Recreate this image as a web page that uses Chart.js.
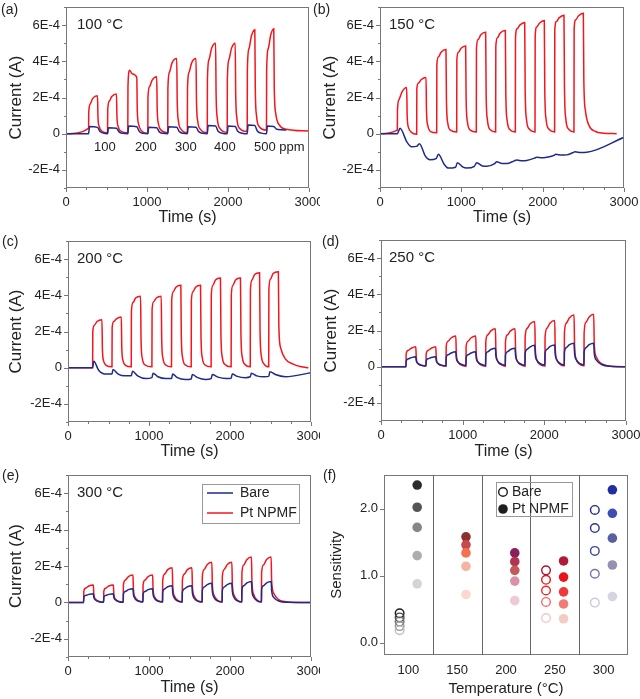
<!DOCTYPE html>
<html>
<head>
<meta charset="utf-8">
<script src="https://cdn.jsdelivr.net/npm/chart.js@4.4.1/dist/chart.umd.min.js"></script>
<style>
  body { margin: 0; background: #fff; width: 640px; height: 699px; position: relative; overflow: hidden; }
  canvas { position: absolute; }
</style>
</head>
<body>
<canvas id="ca" width="320" height="230" style="left:0;top:0"></canvas>
<canvas id="cb" width="330" height="230" style="left:310px;top:0"></canvas>
<canvas id="cc" width="320" height="236" style="left:0;top:230px"></canvas>
<canvas id="cd" width="330" height="236" style="left:310px;top:230px"></canvas>
<canvas id="ce" width="320" height="239" style="left:0;top:460px"></canvas>
<canvas id="cf" width="330" height="239" style="left:310px;top:460px"></canvas>
<script>
// current values in units of 1E-4 A, pairs are [time (s), current]
var timeTicks = [0, 1000, 2000, 3000];
var currentTicks = [-2, 0, 2, 4, 6];
var ppmLabels = ['100', '200', '300', '400', '500 ppm'];

var bare100 = [[0,0],[279,0],[290,0.4],[389,0.35],[420,0.12],[470,0.02],[513,0],
  [524,0.33],[623,0.3],[655,0.1],[705,0.02],[763,0],
  [774,0.42],[874,0.38],[905,0.12],[955,0.02],[1010,0],
  [1021,0.35],[1120,0.33],[1152,0.1],[1200,0.02],[1256,0],
  [1267,0.38],[1367,0.36],[1398,0.12],[1450,0.02],[1498,0],
  [1509,0.38],[1605,0.36],[1637,0.12],[1690,0.02],[1744,0],
  [1755,0.45],[1847,0.42],[1878,0.14],[1930,0.03],[1990,0],
  [2001,0.42],[2089,0.4],[2120,0.13],[2175,0.03],[2237,0],
  [2248,0.48],[2331,0.45],[2362,0.15],[2415,0.03],[2475,0],
  [2486,0.42],[2565,0.4],[2600,0.25],[2660,0.22],[2720,0.2]];
var pt100 = [[0,0],[279,0.3],
  [281,1.2],[300,1.65],[330,1.95],[389,2.1],[395,0.9],[410,0.4],[440,0.15],[513,0.05],
  [515,1.3],[535,1.8],[565,2.05],[623,2.2],[629,0.95],[644,0.4],[675,0.15],[763,0.05],
  [765,2.6],[784,3.5],[820,3.3],[874,3.1],[880,1.3],[895,0.55],[925,0.2],[1010,0.02],
  [1012,2.0],[1032,2.6],[1062,2.95],[1120,3.15],[1126,1.35],[1141,0.55],[1172,0.2],[1256,0.05],
  [1258,2.5],[1278,3.4],[1308,3.9],[1367,4.15],[1373,1.8],[1388,0.7],[1420,0.25],[1498,0.05],
  [1500,2.5],[1520,3.4],[1550,3.9],[1605,4.15],[1611,1.8],[1626,0.7],[1658,0.25],[1744,0.05],
  [1746,3.0],[1766,4.1],[1796,4.7],[1847,5.0],[1853,2.2],[1868,0.85],[1900,0.3],[1990,0.08],
  [1992,3.0],[2012,4.1],[2042,4.7],[2089,5.0],[2095,2.2],[2110,0.85],[2142,0.3],[2237,0.12],
  [2239,3.5],[2259,4.7],[2289,5.4],[2331,5.75],[2337,2.5],[2352,1.0],[2385,0.4],[2475,0.2],
  [2477,3.5],[2497,4.7],[2527,5.45],[2565,5.8],[2571,2.6],[2590,1.1],[2630,0.5],[2720,0.25],[3000,0.15]];

var bare150 = [[0,0],[213,0],[246,0.3],[330,-0.45],[389,-0.72],[451,-0.7],[484,-0.55],[560,-1.25],
  [615,-1.44],[690,-1.38],[717,-1.14],[790,-1.7],[840,-1.9],[930,-1.85],[951,-1.6],[1020,-1.85],
  [1066,-1.9],[1160,-1.8],[1189,-1.6],[1260,-1.78],[1312,-1.8],[1410,-1.65],[1435,-1.55],[1500,-1.65],
  [1558,-1.65],[1650,-1.5],[1681,-1.45],[1750,-1.5],[1804,-1.48],[1900,-1.35],[1927,-1.3],[1990,-1.33],
  [2049,-1.3],[2140,-1.2],[2160,-1.14],[2230,-1.18],[2295,-1.17],[2370,-1.05],[2397,-1.0],[2470,-1.04],
  [2541,-1.03],[3000,-0.2]];
var pt150 = [[0,0],[213,0.2],
  [215,1.3],[235,1.9],[270,2.3],[328,2.55],[334,1.0],[350,0.35],[385,0.08],[451,-0.03],
  [453,2.5],[473,2.8],[505,2.98],[566,3.1],[572,1.2],[588,0.45],[622,0.12],[697,0.05],
  [699,3.8],[719,4.25],[751,4.5],[811,4.65],[817,1.8],[833,0.6],[867,0.2],[943,0.1],
  [945,4.1],[965,4.5],[997,4.72],[1053,4.85],[1059,1.9],[1075,0.65],[1110,0.2],[1184,0.1],
  [1186,4.7],[1206,5.2],[1238,5.45],[1299,5.6],[1305,2.2],[1321,0.75],[1356,0.22],[1422,0.1],
  [1424,4.8],[1444,5.3],[1476,5.55],[1541,5.7],[1547,2.2],[1563,0.75],[1598,0.22],[1664,0.1],
  [1666,5.3],[1686,5.8],[1718,6.0],[1779,6.15],[1785,2.4],[1801,0.8],[1836,0.25],[1906,0.1],
  [1908,5.4],[1928,5.9],[1960,6.1],[2020,6.25],[2026,2.4],[2042,0.8],[2077,0.25],[2147,0.1],
  [2149,5.7],[2169,6.2],[2201,6.4],[2262,6.55],[2268,2.6],[2284,0.85],[2319,0.25],[2385,0.1],
  [2387,5.8],[2407,6.3],[2439,6.5],[2500,6.65],[2506,3.0],[2525,1.3],[2570,0.45],[2650,0.12],[2750,0.03],[2910,0]];

var bare200 = [[0,0],[304,0],[318,0.35],[380,-0.15],[473,-0.35],[543,-0.35],[555,-0.1],[620,-0.35],
  [700,-0.45],[781,-0.45],[797,-0.2],[860,-0.45],[960,-0.6],[1036,-0.55],[1050,-0.3],[1110,-0.5],
  [1210,-0.6],[1278,-0.6],[1292,-0.35],[1350,-0.55],[1450,-0.65],[1521,-0.62],[1535,-0.38],[1600,-0.55],
  [1700,-0.65],[1767,-0.6],[1781,-0.38],[1850,-0.52],[1950,-0.6],[2014,-0.58],[2028,-0.35],[2090,-0.48],
  [2190,-0.55],[2250,-0.5],[2264,-0.3],[2330,-0.45],[2420,-0.5],[2478,-0.48],[2492,-0.22],[2560,-0.38],
  [2684,-0.5],[3000,-0.28]];
var pt200 = [[0,0],[304,0],
  [306,2.0],[326,2.35],[358,2.55],[419,2.65],[425,1.0],[441,0.35],[475,0.12],[543,0.05],
  [545,2.2],[565,2.55],[597,2.7],[658,2.8],[664,1.1],[680,0.38],[714,0.12],[781,0.05],
  [783,3.1],[803,3.6],[835,3.85],[896,3.95],[902,1.5],[918,0.5],[952,0.15],[1036,0.05],
  [1038,3.2],[1058,3.65],[1090,3.85],[1151,3.95],[1157,1.5],[1173,0.5],[1207,0.15],[1278,0.05],
  [1280,3.7],[1300,4.2],[1332,4.45],[1393,4.55],[1399,1.7],[1415,0.55],[1449,0.15],[1521,0.05],
  [1523,3.7],[1543,4.2],[1575,4.45],[1636,4.55],[1642,1.7],[1658,0.55],[1692,0.15],[1767,0.05],
  [1769,4.0],[1789,4.55],[1821,4.85],[1882,4.95],[1888,1.85],[1904,0.6],[1938,0.18],[2014,0.05],
  [2016,4.0],[2036,4.55],[2068,4.85],[2129,4.95],[2135,1.85],[2151,0.6],[2185,0.18],[2250,0.05],
  [2252,4.3],[2272,4.85],[2304,5.15],[2365,5.25],[2371,2.0],[2387,0.65],[2421,0.2],[2478,0.05],
  [2480,4.3],[2500,4.9],[2532,5.2],[2597,5.3],[2603,2.3],[2625,1.1],[2680,0.5],[2780,0.2],[2880,0.05],[2967,0]];

var bare250 = [[0,0],[306,0],
  [308,0.3],[330,0.43],[370,0.5],[426,0.55],[432,0.32],[455,0.17],[500,0.08],[551,0.05],
  [553,0.32],[575,0.44],[615,0.51],[671,0.55],[677,0.32],[700,0.17],[745,0.08],[796,0.05],
  [798,0.5],[820,0.66],[860,0.76],[916,0.82],[922,0.48],[945,0.25],[990,0.12],[1040,0.07],
  [1042,0.5],[1064,0.66],[1104,0.76],[1160,0.82],[1166,0.48],[1189,0.25],[1234,0.12],[1281,0.07],
  [1283,0.62],[1305,0.82],[1345,0.95],[1401,1.02],[1407,0.6],[1430,0.3],[1475,0.14],[1522,0.08],
  [1524,0.62],[1546,0.82],[1586,0.95],[1642,1.02],[1648,0.6],[1671,0.3],[1716,0.14],[1763,0.08],
  [1765,0.72],[1787,0.95],[1827,1.1],[1883,1.18],[1889,0.68],[1912,0.34],[1957,0.15],[2007,0.09],
  [2009,0.72],[2031,0.96],[2071,1.12],[2127,1.2],[2133,0.7],[2156,0.35],[2201,0.16],[2244,0.1],
  [2246,0.8],[2268,1.05],[2308,1.22],[2364,1.3],[2370,0.75],[2393,0.38],[2438,0.17],[2485,0.1],
  [2487,0.8],[2509,1.05],[2549,1.22],[2605,1.3],[2611,0.75],[2640,0.35],[2700,0.12],[2800,0.02],[3000,0]];
var pt250 = [[0,0],[306,0],
  [308,0.7],[330,0.9],[370,1.02],[426,1.1],[432,0.5],[450,0.2],[490,0.07],[551,0.03],
  [553,0.7],[575,0.9],[615,1.02],[671,1.1],[677,0.5],[695,0.2],[735,0.07],[796,0.03],
  [798,1.1],[820,1.4],[860,1.6],[916,1.7],[922,0.75],[940,0.3],[980,0.1],[1040,0.03],
  [1042,1.1],[1064,1.4],[1104,1.6],[1160,1.7],[1166,0.75],[1184,0.3],[1224,0.1],[1281,0.03],
  [1283,1.35],[1305,1.75],[1345,1.98],[1401,2.1],[1407,0.9],[1425,0.35],[1465,0.12],[1522,0.03],
  [1524,1.35],[1546,1.75],[1586,1.98],[1642,2.1],[1648,0.9],[1666,0.35],[1706,0.12],[1763,0.03],
  [1765,1.6],[1787,2.1],[1827,2.37],[1883,2.5],[1889,1.05],[1907,0.4],[1947,0.13],[2007,0.04],
  [2009,1.6],[2031,2.12],[2071,2.42],[2127,2.55],[2133,1.1],[2151,0.42],[2191,0.14],[2244,0.05],
  [2246,1.85],[2268,2.4],[2308,2.7],[2364,2.85],[2370,1.2],[2388,0.45],[2428,0.15],[2485,0.05],
  [2487,1.85],[2509,2.45],[2549,2.75],[2605,2.9],[2611,1.3],[2635,0.55],[2690,0.2],[2780,0.05],[2885,0],[3000,0]];

var bare300 = [[0,0],[193,0],
  [195,0.28],[217,0.38],[257,0.44],[313,0.48],[319,0.28],[340,0.13],[385,0.04],[440,0.01],
  [442,0.28],[464,0.38],[504,0.44],[560,0.48],[566,0.28],[587,0.13],[630,0.04],[682,0.01],
  [684,0.45],[706,0.6],[746,0.7],[802,0.75],[808,0.43],[829,0.2],[872,0.06],[925,0.02],
  [927,0.45],[949,0.6],[989,0.7],[1045,0.75],[1051,0.43],[1072,0.2],[1115,0.06],[1167,0.02],
  [1169,0.55],[1191,0.74],[1231,0.86],[1287,0.92],[1293,0.52],[1314,0.24],[1357,0.07],[1410,0.02],
  [1412,0.55],[1434,0.74],[1474,0.86],[1530,0.92],[1536,0.52],[1557,0.24],[1600,0.07],[1656,0.02],
  [1658,0.63],[1680,0.84],[1720,0.98],[1776,1.05],[1782,0.6],[1803,0.27],[1846,0.08],[1903,0.02],
  [1905,0.63],[1927,0.84],[1967,0.98],[2023,1.05],[2029,0.6],[2050,0.27],[2093,0.08],[2145,0.02],
  [2147,0.7],[2169,0.92],[2209,1.07],[2265,1.15],[2271,0.65],[2292,0.3],[2335,0.09],[2388,0.02],
  [2390,0.7],[2412,0.92],[2452,1.07],[2508,1.15],[2514,0.65],[2545,0.25],[2610,0.06],[2700,0.01],[3000,0]];
var pt300 = [[0,0],[193,0],
  [195,0.6],[217,0.78],[257,0.9],[313,0.95],[319,0.45],[340,0.18],[385,0.05],[440,0.02],
  [442,0.6],[464,0.78],[504,0.9],[560,0.95],[566,0.45],[587,0.18],[630,0.05],[682,0.02],
  [684,0.95],[706,1.22],[746,1.42],[802,1.5],[808,0.7],[829,0.28],[872,0.08],[925,0.03],
  [927,0.95],[949,1.22],[989,1.42],[1045,1.5],[1051,0.7],[1072,0.28],[1115,0.08],[1167,0.03],
  [1169,1.2],[1191,1.55],[1231,1.8],[1287,1.9],[1293,0.88],[1314,0.35],[1357,0.1],[1410,0.03],
  [1412,1.2],[1434,1.55],[1474,1.8],[1530,1.9],[1536,0.88],[1557,0.35],[1600,0.1],[1656,0.03],
  [1658,1.4],[1680,1.8],[1720,2.08],[1776,2.2],[1782,1.0],[1803,0.4],[1846,0.12],[1903,0.03],
  [1905,1.4],[1927,1.8],[1967,2.08],[2023,2.2],[2029,1.0],[2050,0.4],[2093,0.12],[2145,0.03],
  [2147,1.6],[2169,2.05],[2209,2.36],[2265,2.5],[2271,1.15],[2292,0.45],[2335,0.13],[2388,0.03],
  [2390,1.6],[2412,2.05],[2452,2.36],[2508,2.5],[2514,1.2],[2540,0.5],[2600,0.15],[2700,0.03],[2800,0],[3000,0]];

// panel (f): sensitivity at each temperature, one value per concentration (100..500 ppm, top to bottom)
var sensTemps = [100, 150, 200, 250, 300];
var sensBare = [[0.44, 0.38, 0.32, 0.25, 0.19], [], [], [1.08, 0.94, 0.78, 0.61, 0.37], [1.98, 1.71, 1.37, 1.03, 0.60]];
var sensPt = [[2.35, 2.02, 1.72, 1.30, 0.88], [1.58, 1.46, 1.34, 1.14, 0.72], [1.34, 1.21, 1.08, 0.92, 0.63],
  [1.22, 0.98, 0.76, 0.58, 0.36], [2.28, 1.93, 1.56, 1.16, 0.69]];
var sensTicks = [0, 1, 2];

var bareShades = [['#1e1e1e', '#4a4a4a', '#707070', '#989898', '#bdbdbd'], [], [],
  ['#a3162e', '#e3161e', '#f02828', '#f26a6a', '#f6c6c2'],
  ['#1b2890', '#27359b', '#3a48a3', '#7674aa', '#cbc9df']];
var ptShades = [['#2b2b2b', '#555555', '#868686', '#adadad', '#d4d4d4'],
  ['#8e2f2f', '#c64a4c', '#f2724f', '#f5b3a3', '#fbd9cf'],
  ['#8a1f5c', '#b0334f', '#c25a5a', '#d993a8', '#f0c9d3'],
  ['#b1193a', '#e8141b', '#ef3a3a', '#f17b78', '#f3cdc4'],
  ['#202ea0', '#3f4db0', '#5a5fa2', '#9390b2', '#d8d3e3']];

var FONT = "'Liberation Sans', Arial, sans-serif";
var BLUE = '#1d2a8e', RED = '#f4161c', AXIS = '#777', TEXT = '#222';
Chart.defaults.font.family = FONT;
Chart.defaults.color = TEXT;

function xy(arr) {
  return arr.map(function (p) { return {x: p[0], y: p[1]}; });
}

function noPad(s) {
  s.paddingLeft = s.paddingRight = s.paddingTop = s.paddingBottom = 0;
}

function line(ctx, x1, y1, x2, y2) {
  ctx.beginPath();
  ctx.moveTo(x1, y1);
  ctx.lineTo(x2, y2);
  ctx.stroke();
}

// frame, outward ticks, separators, free text and hand-placed legends
function decor(o) {
  return {
    id: 'decor',
    afterDraw: function (chart) {
      var ctx = chart.ctx, a = chart.chartArea, sx = chart.scales.x, sy = chart.scales.y;
      ctx.save();
      ctx.strokeStyle = AXIS;
      ctx.lineWidth = 1;
      ctx.strokeRect(a.left + 0.5, a.top + 0.5, a.right - a.left - 1, a.bottom - a.top - 1);

      if (o.xMinor) {
        for (var v = sx.min; v <= sx.max + 1e-6; v += o.xMinor) {
          var px = Math.round(sx.getPixelForValue(v)) + 0.5;
          line(ctx, px, a.bottom, px, a.bottom + (timeTicks.indexOf(v) >= 0 ? 4 : 2));
        }
      }
      if (o.yTicks) {
        for (var w = Math.ceil(sy.min); w <= sy.max; w += o.yStep) {
          var py = Math.round(sy.getPixelForValue(w)) + 0.5;
          line(ctx, a.left, py, a.left - (o.yTicks.indexOf(w) >= 0 ? 4 : 2), py);
        }
      }
      (o.sep || []).forEach(function (v) {
        var px = Math.round(sx.getPixelForValue(v)) + 0.5;
        ctx.strokeStyle = '#666';
        line(ctx, px, a.top, px, a.bottom);
      });

      ctx.fillStyle = TEXT;
      ctx.textBaseline = 'middle';
      (o.texts || []).forEach(function (t) {
        ctx.font = t.size + 'px ' + FONT;
        ctx.textAlign = t.align || 'left';
        ctx.fillText(t.t, t.x, t.y);
      });

      if (o.lineLegend) {
        var L = o.lineLegend;
        ctx.strokeStyle = '#999';
        ctx.strokeRect(L.x + 0.5, L.y + 0.5, L.w, L.h);
        ctx.lineWidth = 1.5;
        ctx.strokeStyle = BLUE;
        line(ctx, L.x + 5, L.y + 9, L.x + 31, L.y + 9);
        ctx.strokeStyle = RED;
        line(ctx, L.x + 5, L.y + 29, L.x + 31, L.y + 29);
        ctx.font = '14px ' + FONT;
        ctx.textAlign = 'left';
        ctx.fillStyle = TEXT;
        ctx.fillText('Bare', L.x + 38, L.y + 9);
        ctx.fillText('Pt NPMF', L.x + 38, L.y + 29);
      }
      if (o.dotLegend) {
        var D = o.dotLegend;
        ctx.lineWidth = 1;
        ctx.strokeStyle = '#999';
        ctx.strokeRect(D.x + 0.5, D.y + 0.5, D.w, D.h);
        ctx.lineWidth = 1.4;
        ctx.strokeStyle = '#1e1e1e';
        ctx.beginPath();
        ctx.arc(D.x + 7, D.y + 10, 4.3, 0, Math.PI * 2);
        ctx.stroke();
        ctx.fillStyle = '#1e1e1e';
        ctx.beginPath();
        ctx.arc(D.x + 7, D.y + 27, 4.8, 0, Math.PI * 2);
        ctx.fill();
        ctx.font = '14px ' + FONT;
        ctx.textAlign = 'left';
        ctx.fillStyle = TEXT;
        ctx.fillText('Bare', D.x + 16, D.y + 10);
        ctx.fillText('Pt NPMF', D.x + 16, D.y + 27);
      }
      ctx.restore();
    }
  };
}

function currentPanel(id, bare, pt, p) {
  var cv = document.getElementById(id), W = cv.width, H = cv.height;
  return new Chart(cv, {
    type: 'line',
    data: {
      datasets: [
        {label: 'Bare', data: xy(bare), borderColor: BLUE},
        {label: 'Pt NPMF', data: xy(pt), borderColor: RED}
      ]
    },
    options: {
      responsive: false,
      animation: false,
      events: [],
      layout: {padding: {left: 0, right: W - p.r, top: p.t, bottom: 0}},
      elements: {
        point: {radius: 0},
        line: {borderWidth: 1.5, cubicInterpolationMode: 'monotone', fill: false}
      },
      plugins: {legend: {display: false}, tooltip: {enabled: false}},
      scales: {
        x: {
          type: 'linear', min: 0, max: 3000,
          grid: {display: false, drawTicks: false}, border: {display: false},
          afterBuildTicks: function (s) { s.ticks = timeTicks.map(function (v) { return {value: v}; }); },
          afterFit: function (s) { s.height = H - p.b; noPad(s); },
          ticks: {font: {size: 13}, padding: 7, maxRotation: 0, autoSkip: false,
            callback: function (v) { return String(v); }},
          title: {display: true, text: 'Time (s)', font: {size: 16}, padding: {top: 0, bottom: H - p.xy - 9.6}}
        },
        y: {
          type: 'linear', min: -3, max: 7,
          grid: {display: false, drawTicks: false}, border: {display: false},
          afterBuildTicks: function (s) { s.ticks = currentTicks.map(function (v) { return {value: v}; }); },
          afterFit: function (s) { s.width = p.l; noPad(s); },
          ticks: {font: {size: 13}, padding: 6, callback: function (v) { return v === 0 ? '0' : v + 'E-4'; }},
          title: {display: true, text: 'Current (A)', font: {size: 17}, padding: {top: p.yx - 10.2, bottom: 0}}
        }
      }
    },
    plugins: [decor({xMinor: 250, yTicks: currentTicks, yStep: 1, texts: p.texts, lineLegend: p.legend})]
  });
}

currentPanel('ca', bare100, pt100, {l: 66, r: 309, t: 7, b: 188, yx: 16, xy: 218, texts: [
  {t: '(a)', x: 1, y: 10, size: 14},
  {t: '100 °C', x: 77, y: 25, size: 15},
  {t: ppmLabels[0], x: 94, y: 147, size: 13},
  {t: ppmLabels[1], x: 135, y: 147, size: 13},
  {t: ppmLabels[2], x: 175, y: 147, size: 13},
  {t: ppmLabels[3], x: 214, y: 147, size: 13},
  {t: ppmLabels[4], x: 254, y: 147, size: 13}
]});
currentPanel('cb', bare150, pt150, {l: 70, r: 314, t: 7, b: 188, yx: 20, xy: 218, texts: [
  {t: '(b)', x: 3, y: 10, size: 14},
  {t: '150 °C', x: 79, y: 25, size: 15}
]});
currentPanel('cc', bare200, pt200, {l: 68, r: 311, t: 11, b: 192, yx: 16, xy: 222, texts: [
  {t: '(c)', x: 2, y: 12, size: 14},
  {t: '200 °C', x: 77, y: 29, size: 15}
]});
currentPanel('cd', bare250, pt250, {l: 71, r: 316, t: 10, b: 191, yx: 21, xy: 222, texts: [
  {t: '(d)', x: 12, y: 12, size: 14},
  {t: '250 °C', x: 79, y: 28, size: 15}
]});
currentPanel('ce', bare300, pt300, {l: 68, r: 311, t: 15, b: 197, yx: 16, xy: 228, texts: [
  {t: '(e)', x: 2, y: 16, size: 14},
  {t: '300 °C', x: 77, y: 33, size: 15}
], legend: {x: 202, y: 24, w: 97, h: 39}});

// panel (f)
(function () {
  var cv = document.getElementById('cf'), W = cv.width, H = cv.height;
  var p = {l: 74, r: 318, t: 15, b: 195};
  var sets = [];
  sensTemps.forEach(function (T, i) {
    if (sensBare[i].length) {
      sets.push({
        label: 'Bare ' + T,
        data: sensBare[i].map(function (v) { return {x: T - 9, y: v}; }),
        pointRadius: 4.3,
        pointBorderWidth: 1.4,
        pointBackgroundColor: 'rgba(0,0,0,0)',
        pointBorderColor: bareShades[i],
        showLine: false
      });
    }
    sets.push({
      label: 'Pt NPMF ' + T,
      data: sensPt[i].map(function (v) { return {x: T + 9, y: v}; }),
      pointRadius: 4.8,
      pointBorderWidth: 0,
      pointBackgroundColor: ptShades[i],
      pointBorderColor: ptShades[i],
      showLine: false
    });
  });
  new Chart(cv, {
    type: 'scatter',
    data: {datasets: sets},
    options: {
      responsive: false,
      animation: false,
      events: [],
      layout: {padding: {left: 0, right: W - p.r, top: p.t, bottom: 0}},
      plugins: {legend: {display: false}, tooltip: {enabled: false}},
      scales: {
        x: {
          type: 'linear', min: 75, max: 325,
          grid: {display: false, drawTicks: false}, border: {display: false},
          afterBuildTicks: function (s) { s.ticks = sensTemps.map(function (v) { return {value: v}; }); },
          afterFit: function (s) { s.height = H - p.b; noPad(s); },
          ticks: {font: {size: 13}, padding: 8, maxRotation: 0, autoSkip: false,
            callback: function (v) { return String(v); }},
          title: {display: true, text: 'Temperature (°C)', font: {size: 15}, padding: {top: 0, bottom: H - 229 - 9}}
        },
        y: {
          type: 'linear', min: -0.18, max: 2.5,
          grid: {display: false, drawTicks: false}, border: {display: false},
          afterBuildTicks: function (s) { s.ticks = sensTicks.map(function (v) { return {value: v}; }); },
          afterFit: function (s) { s.width = p.l; noPad(s); },
          ticks: {font: {size: 13}, padding: 6, callback: function (v) { return v.toFixed(1); }},
          title: {display: true, text: 'Sensitivity', font: {size: 15}, padding: {top: 27 - 9, bottom: 0}}
        }
      }
    },
    plugins: [decor({yTicks: sensTicks, yStep: 1, sep: [125, 175, 225, 275],
      texts: [{t: '(f)', x: 13, y: 16, size: 14}],
      dotLegend: {x: 186, y: 22, w: 76, h: 34}})]
  });
})();
</script>
</body>
</html>
